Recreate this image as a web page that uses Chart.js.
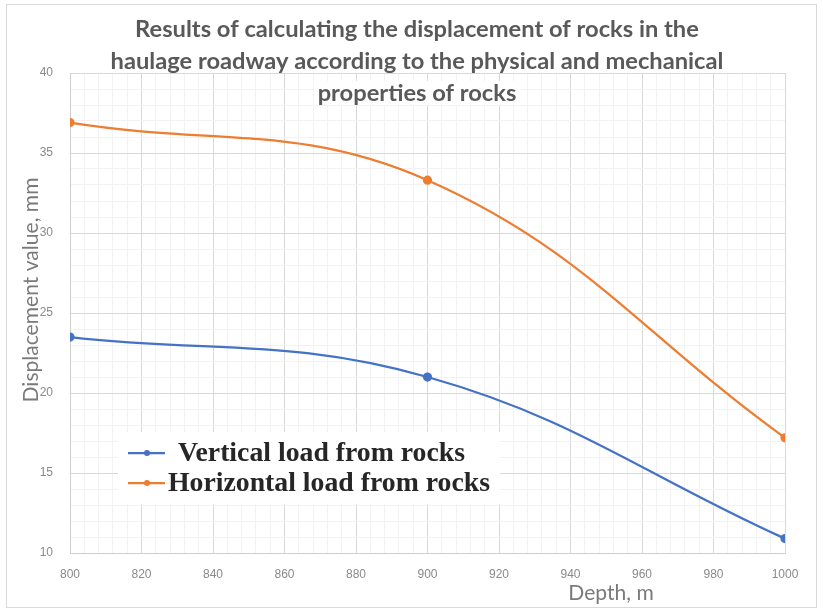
<!DOCTYPE html>
<html>
<head>
<meta charset="utf-8">
<script src="https://cdn.jsdelivr.net/npm/chart.js@4/dist/chart.umd.min.js"></script>
<style>
  html, body { margin: 0; padding: 0; background: #fff; }
  canvas { display: block; }
</style>
</head>
<body>
<canvas id="chart" width="823" height="611"></canvas>
<script>
// Depth of the roadway (m) and computed displacement (mm)
const depths = [800, 900, 1000];
const verticalLoad = [23.5, 21.0, 10.9];
const horizontalLoad = [36.9, 33.3, 17.2];
const seriesNames = ['Vertical load from rocks', 'Horizontal load from rocks'];

// Labelled (major) ticks
const xMajorTicks = [800, 820, 840, 860, 880, 900, 920, 940, 960, 980, 1000];
const yMajorTicks = [10, 15, 20, 25, 30, 35, 40];

const titleLines = [
  'Results of calculating the displacement of rocks in the',
  'haulage roadway according to the physical and mechanical',
  'properties of rocks'
];
const xAxisTitle = 'Depth, m';
const yAxisTitle = 'Displacement value, mm';

const BLUE = '#4472C4';
const ORANGE = '#ED7D31';

const isMajor = (list, v) => list.some(t => Math.abs(t - v) < 1e-6);

function fitFont(ctx, text, weight, family, targetWidth) {
  ctx.font = `${weight} 100px ${family}`;
  const w = ctx.measureText(text).width;
  return 100 * targetWidth / w;
}

const decorations = {
  id: 'decorations',
  beforeDraw(chart) {
    const ctx = chart.ctx;
    ctx.save();
    ctx.fillStyle = '#ffffff';
    ctx.fillRect(0, 0, chart.width, chart.height);
    ctx.strokeStyle = '#d9d9d9';
    ctx.lineWidth = 1;
    ctx.strokeRect(6.5, 4.5, 810, 603);
    ctx.restore();
  },
  afterDraw(chart) {
    const ctx = chart.ctx;
    const area = chart.chartArea;
    ctx.save();

    // Chart title, three centred lines on a white backing
    const titleFamily = 'Lato, "Open Sans", sans-serif';
    const tSize = fitFont(ctx, titleLines[0], 'bold', titleFamily, 564);
    ctx.font = `bold ${tSize.toFixed(2)}px ${titleFamily}`;
    ctx.textAlign = 'center';
    ctx.textBaseline = 'middle';
    const titleY = [29, 61, 93];
    titleLines.forEach((line, i) => {
      const w = ctx.measureText(line).width;
      if (titleY[i] + 12 > area.top) {
        ctx.fillStyle = '#ffffff';
        ctx.fillRect(417 - w / 2 - 4, titleY[i] - 12, w + 8, 24);
      }
      ctx.fillStyle = '#595959';
      ctx.fillText(line, 417, titleY[i]);
    });

    // Axis titles
    const axisFamily = 'Lato, "Open Sans", sans-serif';
    const ySize = fitFont(ctx, yAxisTitle, 'normal', axisFamily, 225);
    ctx.font = `normal ${ySize.toFixed(2)}px ${axisFamily}`;
    ctx.fillStyle = '#7a7a7a';
    ctx.save();
    ctx.translate(31, 290);
    ctx.rotate(-Math.PI / 2);
    ctx.fillText(yAxisTitle, 0, 0);
    ctx.restore();
    ctx.fillText(xAxisTitle, 611, 593);

    // Legend box
    ctx.fillStyle = '#ffffff';
    ctx.fillRect(118, 432, 382, 72);
    const legFamily = '"Liberation Serif", "DejaVu Serif", serif';
    const lSize = fitFont(ctx, chart.data.datasets[0].label, 'bold', legFamily, 287);
    ctx.font = `bold ${lSize.toFixed(2)}px ${legFamily}`;
    ctx.textAlign = 'left';
    const rowY = [453, 483];
    const textX = [178, 168];
    chart.data.datasets.forEach((ds, i) => {
      ctx.strokeStyle = ds.borderColor;
      ctx.lineWidth = 2.25;
      ctx.beginPath();
      ctx.moveTo(128, rowY[i]);
      ctx.lineTo(165, rowY[i]);
      ctx.stroke();
      ctx.fillStyle = ds.borderColor;
      ctx.beginPath();
      ctx.arc(147, rowY[i], 3, 0, Math.PI * 2);
      ctx.fill();
      ctx.fillStyle = '#262626';
      ctx.fillText(ds.label, textX[i], rowY[i] + 1);
    });

    ctx.restore();
  }
};

const toPoints = ys => depths.map((d, i) => ({ x: d, y: ys[i] }));

new Chart(document.getElementById('chart'), {
  type: 'line',
  data: {
    datasets: [
      {
        label: seriesNames[0],
        data: toPoints(verticalLoad),
        borderColor: BLUE,
        backgroundColor: BLUE,
        borderWidth: 2.25,
        pointRadius: 3.5,
        pointHoverRadius: 3.5,
        tension: 0.4
      },
      {
        label: seriesNames[1],
        data: toPoints(horizontalLoad),
        borderColor: ORANGE,
        backgroundColor: ORANGE,
        borderWidth: 2.25,
        pointRadius: 3.5,
        pointHoverRadius: 3.5,
        tension: 0.4
      }
    ]
  },
  options: {
    responsive: false,
    animation: false,
    events: [],
    layout: { padding: { top: 73, right: 38, left: 0, bottom: 0 } },
    plugins: {
      legend: { display: false },
      title: { display: false },
      tooltip: { enabled: false }
    },
    scales: {
      x: {
        type: 'linear',
        min: 800,
        max: 1000,
        afterFit(scale) {
          scale.height = 58;
          scale.paddingLeft = 0;
          scale.paddingRight = 0;
        },
        border: { color: '#d0d0d0' },
        grid: {
          drawTicks: false,
          color: c => isMajor(xMajorTicks, c.tick.value) ? '#d9d9d9' : '#f2f2f2'
        },
        ticks: {
          stepSize: 4,
          autoSkip: false,
          maxRotation: 0,
          minRotation: 0,
          padding: 14,
          color: '#8a8a8a',
          font: { family: '"Liberation Sans", Arial, sans-serif', size: 12 },
          callback: v => isMajor(xMajorTicks, v) ? String(Math.round(v)) : ''
        }
      },
      y: {
        type: 'linear',
        min: 10,
        max: 40,
        afterFit(scale) {
          scale.width = 70;
          scale.paddingTop = 0;
          scale.paddingBottom = 0;
        },
        border: { color: '#d0d0d0' },
        grid: {
          drawTicks: false,
          color: c => isMajor(yMajorTicks, c.tick.value) ? '#d9d9d9' : '#f2f2f2'
        },
        ticks: {
          stepSize: 1,
          autoSkip: false,
          padding: 17,
          color: '#8a8a8a',
          font: { family: '"Liberation Sans", Arial, sans-serif', size: 12 },
          callback: v => isMajor(yMajorTicks, v) ? String(Math.round(v)) : ''
        }
      }
    }
  },
  plugins: [decorations]
});
</script>
</body>
</html>
